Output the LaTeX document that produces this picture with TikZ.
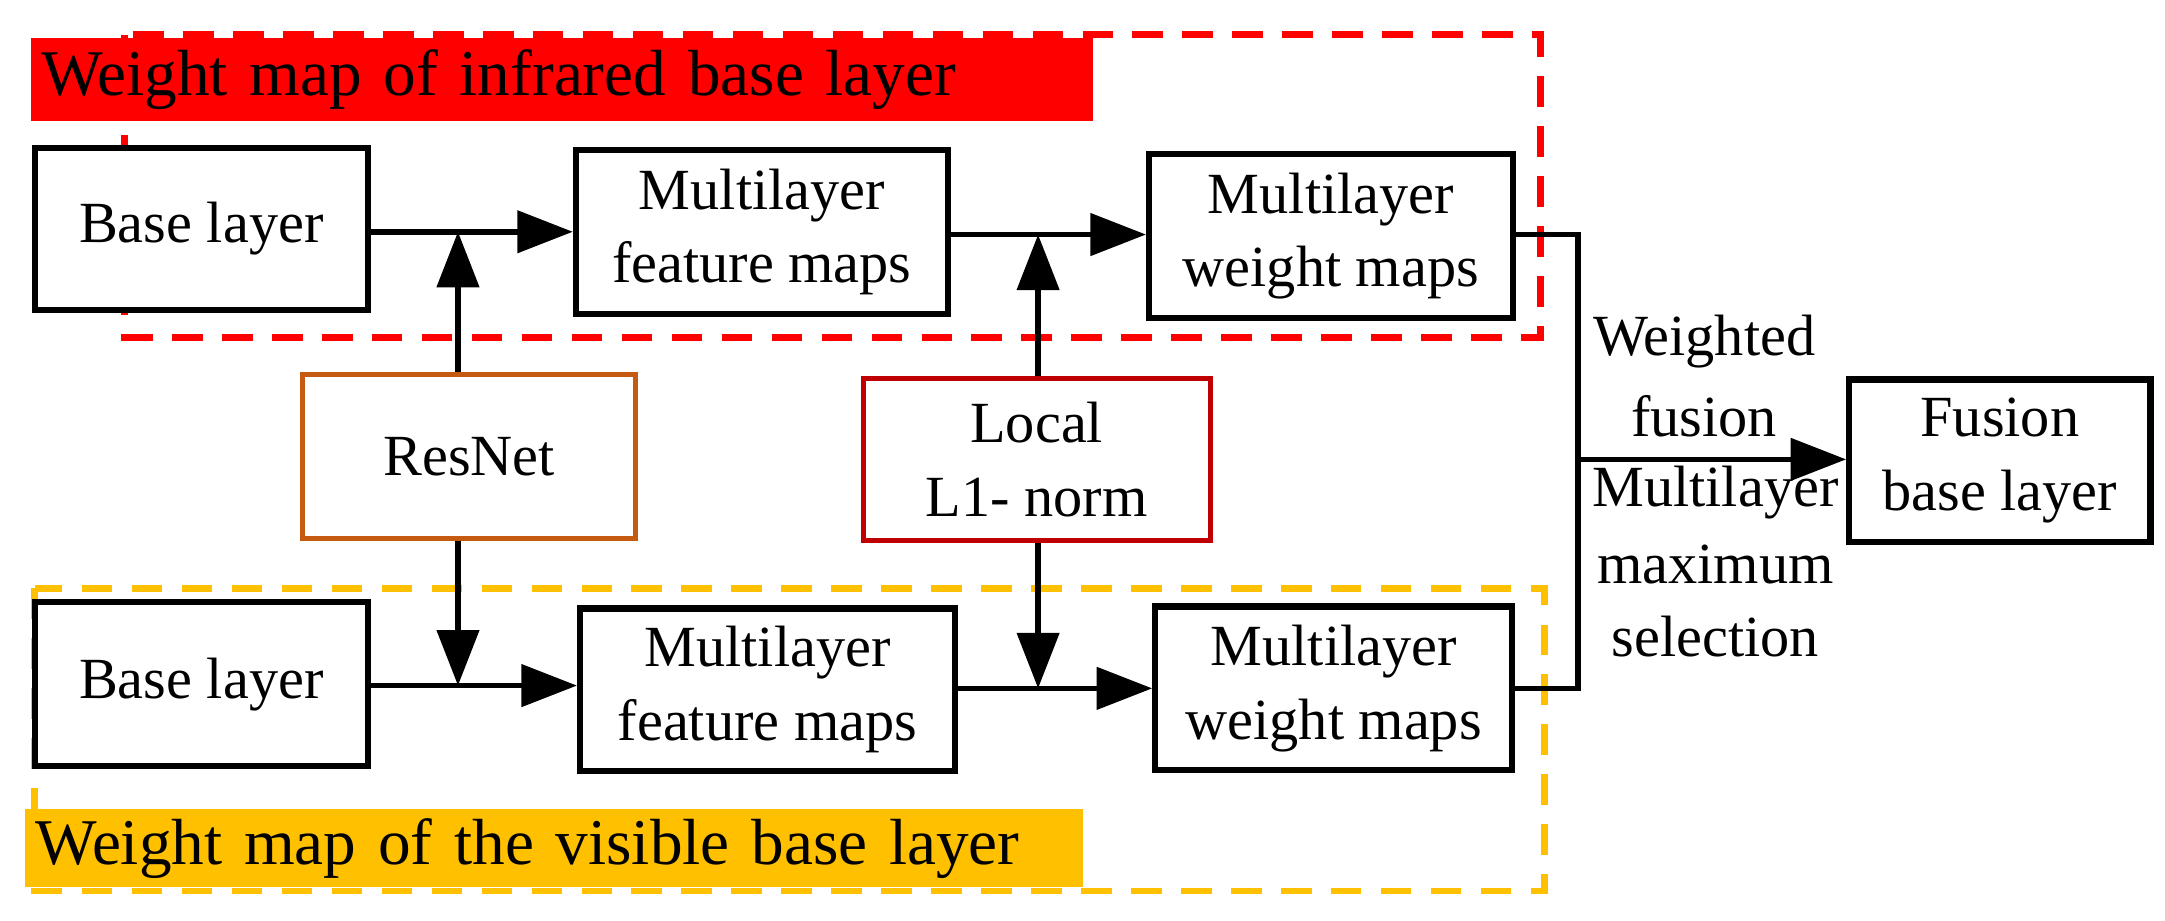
\documentclass[tikz,border=0pt]{standalone}
\usepackage{fontspec}
\setmainfont{Liberation Serif}
\usetikzlibrary{arrows.meta}
\definecolor{ired}{RGB}{255,0,0}
\definecolor{yel}{RGB}{255,192,0}
\definecolor{orng}{RGB}{197,90,17}
\definecolor{dred}{RGB}{192,0,0}
\begin{document}
\begin{tikzpicture}[x=1pt,y=-1pt,
  txt/.style={font=\fontsize{42}{53}\selectfont, align=center},
  ttl/.style={font=\fontsize{47}{53}\selectfont, align=left},
  box/.style={draw, fill=white, line width=4.5pt, txt, inner sep=0pt},
  arr/.style={line width=4pt, -{Triangle[length=40pt,width=30pt]}},
  ln/.style={line width=4pt}]
\useasboundingbox (0,0) rectangle (1560,663);
% dashed frames
\draw[ired, line width=5pt, dash pattern=on 22pt off 14pt] (90,25) rectangle (1110,243);
\draw[yel, line width=5pt, dash pattern=on 22pt off 14pt] (25,424) rectangle (1113,642);
% title bars
\node[fill=ired, minimum width=765pt, minimum height=60pt, inner sep=0pt, anchor=north west, ttl, text width=750pt] (t1) at (22,27) {Weight map of infrared base layer};
\node[fill=yel, minimum width=762pt, minimum height=56pt, inner sep=0pt, anchor=north west, ttl, text width=747pt] (t2) at (18,583) {Weight map of the visible base layer};
% boxes
\node[box, minimum width=240pt, minimum height=117pt] (b1) at (145,165) {Base layer};
\node[box, minimum width=268pt, minimum height=118pt] (f1) at (549,167) {Multilayer\\feature maps};
\node[box, minimum width=262pt, minimum height=118pt] (w1) at (959,170) {Multilayer\\weight maps};
\node[box, minimum width=240pt, minimum height=118pt] (b2) at (145,493) {Base layer};
\node[box, minimum width=270pt, minimum height=117pt] (f2) at (553,497) {Multilayer\\feature maps};
\node[box, minimum width=257pt, minimum height=118pt] (w2) at (961,496) {Multilayer\\weight maps};
\node[box, draw=orng, line width=3.5pt, minimum width=240pt, minimum height=118pt] (res) at (338,329) {ResNet};
\node[box, draw=dred, line width=3.5pt, minimum width=250pt, minimum height=117pt] (loc) at (747,331) {Local\\L1- norm};
\node[box, minimum width=217pt, minimum height=117pt] (fu) at (1441,332) {Fusion\\base layer};
% connectors
\coordinate (j1) at (330,167);
\coordinate (j2) at (748,169);
\coordinate (j3) at (330,494);
\coordinate (j4) at (748,496);
\coordinate (m) at (1137,331);
\draw[arr] (b1.east|-j1) -- (f1.west|-j1);
\draw[arr] (f1.east|-j2) -- (w1.west|-j2);
\draw[arr] (b2.east|-j3) -- (f2.west|-j3);
\draw[arr] (f2.east|-j4) -- (w2.west|-j4);
\draw[arr] (res.north-|j1) -- (j1);
\draw[arr] (res.south-|j3) -- (j3);
\draw[arr] (loc.north-|j2) -- (j2);
\draw[arr] (loc.south-|j4) -- (j4);
\draw[ln] (w1.east|-j2) -- (1137,169) -- (1137,496) -- (w2.east|-j4);
\draw[arr] (m) -- (fu.west|-m);
% labels
\node[txt] (l1) at (1228,246) {Weighted};
\node[txt] (l2) at (1228,300) {fusion};
\node[txt] (l3) at (1236,355) {Multilayer};
\node[txt] (l4) at (1236,407) {maximum};
\node[txt] (l5) at (1236,459) {selection};
\end{tikzpicture}
\end{document}
